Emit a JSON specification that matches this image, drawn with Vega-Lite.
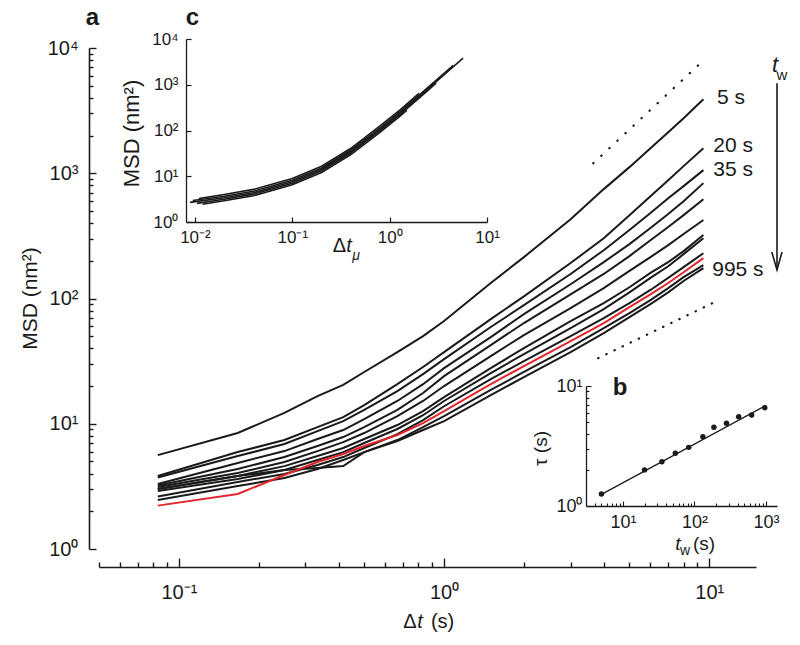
{
"$schema": "https://vega.github.io/schema/vega-lite/v6.json",
"width": 800, "height": 645, "autosize": "none", "padding": 0, "background": "white",
"config": {"view": {"stroke": null}, "axis": {"grid": false, "domainColor": "#1a1a1a", "tickColor": "#1a1a1a", "labelColor": "#1a1a1a", "titleColor": "#1a1a1a", "labelFont": "Liberation Sans", "titleFont": "Liberation Sans", "titleFontWeight": "normal", "labelFlush": false, "labelOverlap": false, "labelBound": false}, "text": {"font": "Liberation Sans", "color": "#1a1a1a"}},
"datasets": {
"main": [
{"s":"L1","x":0.0833,"y":5.62},{"s":"L1","x":0.1667,"y":8.43},{"s":"L1","x":0.25,"y":12.2},{"s":"L1","x":0.3333,"y":16.6},{"s":"L1","x":0.4167,"y":20.4},{"s":"L1","x":0.5,"y":25.9},{"s":"L1","x":0.6667,"y":37.3},{"s":"L1","x":0.8333,"y":50.1},{"s":"L1","x":1,"y":66.1},{"s":"L1","x":1.5,"y":133},{"s":"L1","x":2,"y":214},{"s":"L1","x":3,"y":430},{"s":"L1","x":4,"y":747},{"s":"L1","x":5,"y":1119},{"s":"L1","x":6,"y":1585},{"s":"L1","x":7,"y":2128},{"s":"L1","x":8,"y":2754},{"s":"L1","x":9.5,"y":3902},
{"s":"L2","x":0.0833,"y":3.83},{"s":"L2","x":0.1667,"y":5.94},{"s":"L2","x":0.25,"y":7.41},{"s":"L2","x":0.3333,"y":9.41},{"s":"L2","x":0.4167,"y":11.3},{"s":"L2","x":0.5,"y":14.1},{"s":"L2","x":0.6667,"y":20.7},{"s":"L2","x":0.8333,"y":28.4},{"s":"L2","x":1,"y":37.3},{"s":"L2","x":1.5,"y":68.5},{"s":"L2","x":2,"y":104},{"s":"L2","x":3,"y":192},{"s":"L2","x":4,"y":303},{"s":"L2","x":5,"y":463},{"s":"L2","x":6,"y":656},{"s":"L2","x":7,"y":881},{"s":"L2","x":8,"y":1140},{"s":"L2","x":9.5,"y":1585},
{"s":"L3","x":0.0833,"y":3.72},{"s":"L3","x":0.1667,"y":5.52},{"s":"L3","x":0.25,"y":6.89},{"s":"L3","x":0.3333,"y":8.74},{"s":"L3","x":0.4167,"y":10.5},{"s":"L3","x":0.5,"y":12.9},{"s":"L3","x":0.6667,"y":18.2},{"s":"L3","x":0.8333,"y":24.9},{"s":"L3","x":1,"y":32.8},{"s":"L3","x":1.5,"y":59.2},{"s":"L3","x":2,"y":88.5},{"s":"L3","x":3,"y":157},{"s":"L3","x":4,"y":243},{"s":"L3","x":5,"y":352},{"s":"L3","x":6,"y":481},{"s":"L3","x":7,"y":632},{"s":"L3","x":8,"y":789},{"s":"L3","x":9.5,"y":1059},
{"s":"L4","x":0.0833,"y":3.30},{"s":"L4","x":0.1667,"y":4.86},{"s":"L4","x":0.25,"y":6.05},{"s":"L4","x":0.3333,"y":7.55},{"s":"L4","x":0.4167,"y":8.91},{"s":"L4","x":0.5,"y":10.9},{"s":"L4","x":0.6667,"y":15.2},{"s":"L4","x":0.8333,"y":20.7},{"s":"L4","x":1,"y":27.8},{"s":"L4","x":1.5,"y":49.2},{"s":"L4","x":2,"y":75.1},{"s":"L4","x":3,"y":130},{"s":"L4","x":4,"y":195},{"s":"L4","x":5,"y":272},{"s":"L4","x":6,"y":365},{"s":"L4","x":7,"y":472},{"s":"L4","x":8,"y":598},{"s":"L4","x":9.5,"y":834},
{"s":"L5","x":0.0833,"y":3.21},{"s":"L5","x":0.1667,"y":4.35},{"s":"L5","x":0.25,"y":5.42},{"s":"L5","x":0.3333,"y":6.64},{"s":"L5","x":0.4167,"y":7.83},{"s":"L5","x":0.5,"y":9.41},{"s":"L5","x":0.6667,"y":12.9},{"s":"L5","x":0.8333,"y":17.6},{"s":"L5","x":1,"y":24.0},{"s":"L5","x":1.5,"y":42.5},{"s":"L5","x":2,"y":63.7},{"s":"L5","x":3,"y":108},{"s":"L5","x":4,"y":157},{"s":"L5","x":5,"y":218},{"s":"L5","x":6,"y":292},{"s":"L5","x":7,"y":372},{"s":"L5","x":8,"y":463},{"s":"L5","x":9.5,"y":621},
{"s":"L6","x":0.0833,"y":3.13},{"s":"L6","x":0.1667,"y":4.04},{"s":"L6","x":0.25,"y":4.95},{"s":"L6","x":0.3333,"y":6.05},{"s":"L6","x":0.4167,"y":7.14},{"s":"L6","x":0.5,"y":8.43},{"s":"L6","x":0.6667,"y":11.5},{"s":"L6","x":0.8333,"y":15.2},{"s":"L6","x":1,"y":20.0},{"s":"L6","x":1.5,"y":34.7},{"s":"L6","x":2,"y":51.0},{"s":"L6","x":3,"y":83.8},{"s":"L6","x":4,"y":121},{"s":"L6","x":5,"y":166},{"s":"L6","x":6,"y":214},{"s":"L6","x":7,"y":267},{"s":"L6","x":8,"y":327},{"s":"L6","x":9.5,"y":423},
{"s":"L7","x":0.0833,"y":3.01},{"s":"L7","x":0.1667,"y":3.83},{"s":"L7","x":0.25,"y":4.59},{"s":"L7","x":0.3333,"y":5.52},{"s":"L7","x":0.4167,"y":6.40},{"s":"L7","x":0.5,"y":7.55},{"s":"L7","x":0.6667,"y":9.77},{"s":"L7","x":0.8333,"y":12.6},{"s":"L7","x":1,"y":16.3},{"s":"L7","x":1.5,"y":27.8},{"s":"L7","x":2,"y":40.2},{"s":"L7","x":3,"y":66.1},{"s":"L7","x":4,"y":91.9},{"s":"L7","x":5,"y":123},{"s":"L7","x":6,"y":160},{"s":"L7","x":7,"y":195},{"s":"L7","x":8,"y":239},{"s":"L7","x":9.5,"y":321},
{"s":"L8","x":0.0833,"y":2.90},{"s":"L8","x":0.1667,"y":3.62},{"s":"L8","x":0.25,"y":4.27},{"s":"L8","x":0.3333,"y":5.13},{"s":"L8","x":0.4167,"y":5.94},{"s":"L8","x":0.5,"y":7.02},{"s":"L8","x":0.6667,"y":9.08},{"s":"L8","x":0.8333,"y":11.7},{"s":"L8","x":1,"y":15.2},{"s":"L8","x":1.5,"y":25.4},{"s":"L8","x":2,"y":36.0},{"s":"L8","x":3,"y":58.1},{"s":"L8","x":4,"y":82.3},{"s":"L8","x":5,"y":112},{"s":"L8","x":6,"y":146},{"s":"L8","x":7,"y":181},{"s":"L8","x":8,"y":226},{"s":"L8","x":9.5,"y":303},
{"s":"L9","x":0.0833,"y":2.62},{"s":"L9","x":0.1667,"y":3.43},{"s":"L9","x":0.25,"y":3.97},{"s":"L9","x":0.3333,"y":4.68},{"s":"L9","x":0.4167,"y":5.42},{"s":"L9","x":0.5,"y":6.40},{"s":"L9","x":0.6667,"y":8.27},{"s":"L9","x":0.8333,"y":10.7},{"s":"L9","x":1,"y":13.8},{"s":"L9","x":1.5,"y":22.7},{"s":"L9","x":2,"y":31.6},{"s":"L9","x":3,"y":50.1},{"s":"L9","x":4,"y":69.8},{"s":"L9","x":5,"y":91.9},{"s":"L9","x":6,"y":117},{"s":"L9","x":7,"y":146},{"s":"L9","x":8,"y":178},{"s":"L9","x":9.5,"y":230},
{"s":"L10","x":0.0833,"y":2.46},{"s":"L10","x":0.1667,"y":3.18},{"s":"L10","x":0.25,"y":3.69},{"s":"L10","x":0.3333,"y":4.35},{"s":"L10","x":0.4167,"y":5.13},{"s":"L10","x":0.5,"y":5.94},{"s":"L10","x":0.6667,"y":7.41},{"s":"L10","x":0.8333,"y":9.41},{"s":"L10","x":1,"y":11.5},{"s":"L10","x":1.5,"y":18.6},{"s":"L10","x":2,"y":25.9},{"s":"L10","x":3,"y":40.9},{"s":"L10","x":4,"y":58.1},{"s":"L10","x":5,"y":76.4},{"s":"L10","x":6,"y":97.1},{"s":"L10","x":7,"y":121},{"s":"L10","x":8,"y":148},{"s":"L10","x":9.5,"y":185},
{"s":"L11","x":0.0833,"y":3.01},{"s":"L11","x":0.1667,"y":3.83},{"s":"L11","x":0.25,"y":4.27},{"s":"L11","x":0.3333,"y":4.43},{"s":"L11","x":0.4167,"y":4.59},{"s":"L11","x":0.5,"y":5.94},{"s":"L11","x":0.6667,"y":7.28},{"s":"L11","x":0.8333,"y":8.91},{"s":"L11","x":1,"y":10.5},{"s":"L11","x":1.5,"y":16.9},{"s":"L11","x":2,"y":23.6},{"s":"L11","x":3,"y":37.3},{"s":"L11","x":4,"y":53.0},{"s":"L11","x":5,"y":71.1},{"s":"L11","x":6,"y":90.2},{"s":"L11","x":7,"y":112},{"s":"L11","x":8,"y":138},{"s":"L11","x":9.5,"y":175},
{"s":"R","x":0.0833,"y":2.22},{"s":"R","x":0.1667,"y":2.75},{"s":"R","x":0.25,"y":3.90},{"s":"R","x":0.3333,"y":4.95},{"s":"R","x":0.4167,"y":5.73},{"s":"R","x":0.5,"y":6.64},{"s":"R","x":0.6667,"y":8.13},{"s":"R","x":0.8333,"y":10.1},{"s":"R","x":1,"y":12.6},{"s":"R","x":1.5,"y":20.7},{"s":"R","x":2,"y":28.9},{"s":"R","x":3,"y":45.7},{"s":"R","x":4,"y":63.7},{"s":"R","x":5,"y":85.4},{"s":"R","x":6,"y":108},{"s":"R","x":7,"y":133},{"s":"R","x":8,"y":162},{"s":"R","x":9.5,"y":210}
],
"dot1": [{"x":3.65,"y":1200},{"x":9.09,"y":7290}],
"dot2": [{"x":3.81,"y":33.4},{"x":10.3,"y":91.9}],
"arrow": [{"g":"shaft","x":18.0,"y":5240},{"g":"shaft","x":18.0,"y":169},{"g":"head","x":17.2,"y":235},{"g":"head","x":18.0,"y":169},{"g":"head","x":18.8,"y":235}],
"labs": [{"x":10.7,"y":3980,"t":"5 s"},{"x":10.35,"y":1645,"t":"20 s"},{"x":10.35,"y":1059,"t":"35 s"},{"x":10.26,"y":169,"t":"995 s"}],
"mnorm": [{"x":0.744,"y":0.261,"t":"Δ","f":20},{"x":0.987,"y":0.261,"t":"(s)","f":20},{"x":18.8,"y":6067,"t":"w","f":15}],
"mital": [{"x":0.812,"y":0.261,"t":"t","f":20},{"x":17.7,"y":7290,"t":"t","f":22}],
"mbold": [{"x":0.0472,"y":15200,"t":"a"},{"x":0.1124,"y":15200,"t":"c"}],
"cl": [
{"s":"c1","x":0.0089,"y":2.69},{"s":"c1","x":0.02,"y":3.39},{"s":"c1","x":0.04,"y":4.37},{"s":"c1","x":0.1,"y":7.59},{"s":"c1","x":0.2,"y":14.1},{"s":"c1","x":0.4,"y":34.7},{"s":"c1","x":0.79,"y":105},{"s":"c1","x":1.28,"y":240},{"s":"c1","x":2.51,"y":832},{"s":"c1","x":5.68,"y":3800},
{"s":"c2","x":0.0095,"y":2.95},{"s":"c2","x":0.02,"y":3.66},{"s":"c2","x":0.04,"y":4.72},{"s":"c2","x":0.1,"y":8.2},{"s":"c2","x":0.2,"y":15.2},{"s":"c2","x":0.4,"y":37.5},{"s":"c2","x":0.79,"y":113},{"s":"c2","x":1.28,"y":259},{"s":"c2","x":2.51,"y":899},{"s":"c2","x":4.5,"y":2650},
{"s":"c3","x":0.0105,"y":2.55},{"s":"c3","x":0.02,"y":3.15},{"s":"c3","x":0.04,"y":4.06},{"s":"c3","x":0.1,"y":7.06},{"s":"c3","x":0.2,"y":13.1},{"s":"c3","x":0.4,"y":32.3},{"s":"c3","x":0.79,"y":97.7},{"s":"c3","x":1.28,"y":223},{"s":"c3","x":2.51,"y":774},{"s":"c3","x":3.0,"y":1080},
{"s":"c4","x":0.011,"y":3.25},{"s":"c4","x":0.02,"y":4.0},{"s":"c4","x":0.04,"y":5.16},{"s":"c4","x":0.1,"y":8.96},{"s":"c4","x":0.2,"y":16.6},{"s":"c4","x":0.4,"y":40.9},{"s":"c4","x":0.79,"y":124},{"s":"c4","x":1.28,"y":283},{"s":"c4","x":2.0,"y":645},
{"s":"c5","x":0.012,"y":2.45},{"s":"c5","x":0.02,"y":2.92},{"s":"c5","x":0.04,"y":3.76},{"s":"c5","x":0.1,"y":6.53},{"s":"c5","x":0.2,"y":12.1},{"s":"c5","x":0.4,"y":29.8},{"s":"c5","x":0.79,"y":90.3},{"s":"c5","x":1.28,"y":206},{"s":"c5","x":1.5,"y":274}
],
"cnorm": [{"x":0.305,"y":0.292,"t":"Δ","f":20}],
"cital": [{"x":0.383,"y":0.292,"t":"t","f":20},{"x":0.452,"y":0.181,"t":"μ","f":14}],
"bpts": [{"x":5,"y":1.26},{"x":20,"y":2.0},{"x":35,"y":2.34},{"x":54,"y":2.75},{"x":83,"y":3.08},{"x":131,"y":3.78},{"x":187,"y":4.53},{"x":280,"y":4.89},{"x":415,"y":5.55},{"x":630,"y":5.73},{"x":960,"y":6.6}],
"bfit": [{"x":5,"y":1.25},{"x":1000,"y":6.9}],
"bnorm": [{"x":73.6,"y":0.422,"t":"w","f":14},{"x":136,"y":0.48,"t":"(s)","f":19}],
"bital": [{"x":58.8,"y":0.482,"t":"t","f":19}],
"bbold": [{"x":9.08,"y":8.41,"t":"b"}]
},
"layer": [
{
"encoding": {
 "x": {"field": "x", "type": "quantitative", "scale": {"type": "log", "domain": [0.05, 15], "range": [99, 756], "nice": false},
  "axis": {"orient": "bottom", "offset": -78, "title": null, "values": [0.05,0.06,0.07,0.08,0.09,0.1,0.2,0.3,0.4,0.5,0.6,0.7,0.8,0.9,1,2,3,4,5,6,7,8,9,10],
   "labelExpr": "datum.value == 0.1 ? '10⁻¹' : datum.value == 1 ? '10⁰' : datum.value == 10 ? '10¹' : ''",
   "tickSize": {"condition": {"test": "datum.value == 0.1 || datum.value == 1 || datum.value == 10", "value": -9}, "value": -5},
   "tickWidth": 1.4, "domainWidth": 1.6, "labelFontSize": 20, "labelPadding": 24}},
 "y": {"field": "y", "type": "quantitative", "scale": {"type": "log", "domain": [1, 10000], "range": [549, 48], "nice": false},
  "axis": {"orient": "left", "offset": -89, "values": [1,2,3,4,5,6,7,8,9,10,20,30,40,50,60,70,80,90,100,200,300,400,500,600,700,800,900,1000,2000,3000,4000,5000,6000,7000,8000,9000,10000],
   "labelExpr": "datum.value == 1 ? '10⁰' : datum.value == 10 ? '10¹' : datum.value == 100 ? '10²' : datum.value == 1000 ? '10³' : datum.value == 10000 ? '10⁴' : ''",
   "tickSize": {"condition": {"test": "datum.value == 1 || datum.value == 10 || datum.value == 100 || datum.value == 1000 || datum.value == 10000", "value": -7}, "value": -4},
   "tickWidth": 1.4, "domainWidth": 1.6, "labelFontSize": 20, "labelPadding": 18,
   "title": "MSD (nm²)", "titleFontSize": 21, "titleX": -59, "titleY": 298, "titleAngle": 270, "titleAlign": "center", "titleBaseline": "middle"}}
},
"layer": [
 {"data": {"name": "main"}, "transform": [{"filter": "datum.s != 'R'"}], "mark": {"type": "line", "color": "#1a1a1a", "strokeWidth": 2}, "encoding": {"detail": {"field": "s"}}},
 {"data": {"name": "main"}, "transform": [{"filter": "datum.s == 'R'"}], "mark": {"type": "line", "color": "#e3262b", "strokeWidth": 2}},
 {"data": {"name": "dot1"}, "mark": {"type": "line", "color": "#1a1a1a", "strokeWidth": 2.2, "strokeCap": "round", "strokeDash": [0.5, 10.5]}},
 {"data": {"name": "dot2"}, "mark": {"type": "line", "color": "#1a1a1a", "strokeWidth": 2.2, "strokeCap": "round", "strokeDash": [0.5, 8.5]}},
 {"data": {"name": "arrow"}, "mark": {"type": "line", "color": "#1a1a1a", "strokeWidth": 1.6}, "encoding": {"detail": {"field": "g"}}},
 {"data": {"name": "labs"}, "mark": {"type": "text", "align": "left", "baseline": "middle", "fontSize": 21}, "encoding": {"text": {"field": "t"}}},
 {"data": {"name": "mnorm"}, "mark": {"type": "text", "align": "center", "baseline": "middle"}, "encoding": {"text": {"field": "t"}, "size": {"field": "f", "type": "quantitative", "scale": null}}},
 {"data": {"name": "mital"}, "mark": {"type": "text", "align": "center", "baseline": "middle", "fontStyle": "italic"}, "encoding": {"text": {"field": "t"}, "size": {"field": "f", "type": "quantitative", "scale": null}}},
 {"data": {"name": "mbold"}, "mark": {"type": "text", "align": "center", "baseline": "alphabetic", "fontWeight": "bold", "fontSize": 24}, "encoding": {"text": {"field": "t"}}}
]
},
{
"encoding": {
 "x": {"field": "x", "type": "quantitative", "scale": {"type": "log", "domain": [0.0081, 10], "range": [186, 487], "nice": false},
  "axis": {"orient": "bottom", "offset": -423, "title": null, "values": [0.01, 0.1, 1, 10],
   "labelExpr": "datum.value == 0.01 ? '10⁻²' : datum.value == 0.1 ? '10⁻¹' : datum.value == 1 ? '10⁰' : '10¹'",
   "tickSize": -5, "tickWidth": 1.2, "domainWidth": 1.3, "labelFontSize": 17, "labelPadding": 12}},
 "y": {"field": "y", "type": "quantitative", "scale": {"type": "log", "domain": [1, 10000], "range": [222, 39], "nice": false},
  "axis": {"orient": "left", "offset": -186, "values": [1, 10, 100, 1000, 10000],
   "labelExpr": "datum.value == 1 ? '10⁰' : datum.value == 10 ? '10¹' : datum.value == 100 ? '10²' : datum.value == 1000 ? '10³' : '10⁴'",
   "tickSize": -5, "tickWidth": 1.2, "domainWidth": 1.3, "labelFontSize": 17, "labelPadding": 13,
   "title": "MSD (nm²)", "titleFontSize": 22, "titleX": -55, "titleY": 133, "titleAngle": 270, "titleAlign": "center", "titleBaseline": "middle"}}
},
"layer": [
 {"data": {"name": "cl"}, "mark": {"type": "line", "color": "#1a1a1a", "strokeWidth": 1.6}, "encoding": {"detail": {"field": "s"}}},
 {"data": {"name": "cnorm"}, "mark": {"type": "text", "align": "center", "baseline": "middle"}, "encoding": {"text": {"field": "t"}, "size": {"field": "f", "type": "quantitative", "scale": null}}},
 {"data": {"name": "cital"}, "mark": {"type": "text", "align": "center", "baseline": "middle", "fontStyle": "italic"}, "encoding": {"text": {"field": "t"}, "size": {"field": "f", "type": "quantitative", "scale": null}}}
]
},
{
"encoding": {
 "x": {"field": "x", "type": "quantitative", "scale": {"type": "log", "domain": [3.04, 1425], "range": [586, 777], "nice": false},
  "axis": {"orient": "bottom", "offset": -139, "title": null, "values": [4,5,6,7,8,9,10,20,30,40,50,60,70,80,90,100,200,300,400,500,600,700,800,900,1000],
   "labelExpr": "datum.value == 10 ? '10¹' : datum.value == 100 ? '10²' : datum.value == 1000 ? '10³' : ''",
   "tickSize": {"condition": {"test": "datum.value == 10 || datum.value == 100 || datum.value == 1000", "value": -5}, "value": -3},
   "tickWidth": 1.1, "domainWidth": 1.3, "labelFontSize": 18, "labelPadding": 12}},
 "y": {"field": "y", "type": "quantitative", "scale": {"type": "log", "domain": [1, 10], "range": [506, 386], "nice": false},
  "axis": {"orient": "left", "offset": -586, "values": [1,2,3,4,5,6,7,8,9,10],
   "labelExpr": "datum.value == 1 ? '10⁰' : datum.value == 10 ? '10¹' : ''",
   "tickSize": {"condition": {"test": "datum.value == 1 || datum.value == 10", "value": -5}, "value": -3},
   "tickWidth": 1.1, "domainWidth": 1.3, "labelFontSize": 18, "labelPadding": 9,
   "title": "τ (s)", "titleFontSize": 19, "titleX": -46, "titleY": 448, "titleAngle": 270, "titleAlign": "center", "titleBaseline": "middle"}}
},
"layer": [
 {"data": {"name": "bfit"}, "mark": {"type": "line", "color": "#1a1a1a", "strokeWidth": 1.3}},
 {"data": {"name": "bpts"}, "mark": {"type": "point", "filled": true, "color": "#1a1a1a", "size": 30, "opacity": 1}},
 {"data": {"name": "bnorm"}, "mark": {"type": "text", "align": "center", "baseline": "middle"}, "encoding": {"text": {"field": "t"}, "size": {"field": "f", "type": "quantitative", "scale": null}}},
 {"data": {"name": "bital"}, "mark": {"type": "text", "align": "center", "baseline": "middle", "fontStyle": "italic"}, "encoding": {"text": {"field": "t"}, "size": {"field": "f", "type": "quantitative", "scale": null}}},
 {"data": {"name": "bbold"}, "mark": {"type": "text", "align": "center", "baseline": "alphabetic", "fontWeight": "bold", "fontSize": 24}, "encoding": {"text": {"field": "t"}}}
]
}
],
"resolve": {"scale": {"x": "independent", "y": "independent"}}
}
